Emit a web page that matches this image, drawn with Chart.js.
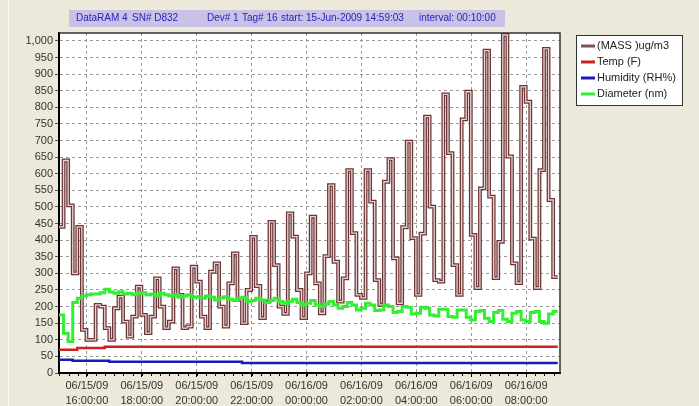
<!DOCTYPE html>
<html>
<head>
<meta charset="utf-8">
<script src="https://cdn.jsdelivr.net/npm/chart.js@4.4.1/dist/chart.umd.min.js"></script>
<style>
  html, body { margin:0; padding:0; background:#ECE9DA; }
  #wrap { position:relative; width:699px; height:406px; }
</style>
</head>
<body>
<div id="wrap"><canvas id="dramChart"></canvas></div>
<script>
// header of the logger export
const headerText = ['DataRAM 4', 'SN# D832', 'Dev# 1', 'Tag# 16', 'start: 15-Jun-2009 14:59:03', 'interval: 00:10:00'];
const startMinutes = 14 * 60 + 59 + 3 / 60;   // 15-Jun-2009 14:59:03, minutes from midnight
const intervalMinutes = 10;

const seriesNames = ['(MASS )ug/m3', 'Temp (F)', 'Humidity (RH%)', 'Diameter (nm)'];

// one value per 10 min sample
const mass = [
  440,640,505,300,440,130,100,100,205,200,
  135,100,195,230,155,110,170,260,175,120,
  170,285,200,135,155,315,235,135,140,320,
  275,170,135,305,330,200,140,270,360,220,
  150,250,410,262,165,215,455,325,200,178,
  481,411,250,165,300,471,270,180,352,566,
  335,215,285,611,421,235,226,611,516,280,
  205,576,644,345,210,439,697,406,235,420,
  772,501,280,275,839,662,325,235,764,847,
  416,256,556,971,531,286,395,1018,652,330,
  271,862,817,405,256,611,976,521,289,289
];

const temp = [
  70,70,70,70,75,75,75,75,75,75,
  79,79,79,79,79,79,79,79,79,79,
  79,79,79,79,79,79,79,79,79,79,
  79,79,79,79,79,79,79,79,79,79,
  79,79,79,79,79,79,79,79,79,79,
  79,79,79,79,79,79,79,79,79,79,
  79,79,79,79,79,79,79,79,79,79,
  79,79,79,79,79,79,79,79,79,79,
  79,79,79,79,79,79,79,79,79,79,
  79,79,79,79,79,79,79,79,79,79,
  79,79,79,79,79,79,79,79,79,79
];

const humidity = [
  40,40,40,37,37,37,37,37,37,37,
  37,34,34,34,34,34,34,34,34,34,
  34,34,34,34,34,34,34,34,34,34,
  34,34,34,34,34,34,34,34,34,34,
  30,30,30,30,30,30,30,30,30,30,
  30,30,30,30,30,30,30,30,30,30,
  30,30,30,30,30,30,30,30,30,30,
  30,30,30,30,30,30,30,30,30,30,
  30,30,30,30,30,30,30,30,30,30,
  30,30,30,30,30,30,30,30,30,30,
  30,30,30,30,30,30,30,30,30,30
];

const diameter = [
  175,120,95,212,225,232,236,238,238,242,
  252,244,240,245,238,240,236,240,242,236,
  238,232,240,236,232,236,228,232,236,228,
  230,225,232,228,220,226,230,222,218,225,
  228,215,218,225,220,212,218,225,215,210,
  215,222,212,205,210,218,205,200,208,215,
  205,195,200,212,205,190,195,210,205,188,
  190,205,200,182,185,200,198,178,180,198,
  195,175,172,192,192,170,168,190,190,168,
  160,185,188,165,155,182,188,162,155,180,
  185,160,155,182,185,155,150,178,185,185
];

const xTickMinutes = [960, 1080, 1200, 1320, 1440, 1560, 1680, 1800, 1920];
const xTickDates = ['06/15/09','06/15/09','06/15/09','06/15/09','06/16/09','06/16/09','06/16/09','06/16/09','06/16/09'];
const xTickTimes = ['16:00:00','18:00:00','20:00:00','22:00:00','00:00:00','02:00:00','04:00:00','06:00:00','08:00:00'];
const yTicks = [0,50,100,150,200,250,300,350,400,450,500,550,600,650,700,750,800,850,900,950,1000];

const FONT = '"Liberation Sans", Arial, sans-serif';

function toPoints(values) {
  return values.map((v, i) => ({ x: startMinutes + i * intervalMinutes, y: v }));
}

function line(label, values, color, width, order) {
  return {
    label: label,
    data: toPoints(values),
    borderColor: color,
    borderWidth: width,
    stepped: 'before',
    pointRadius: 0,
    fill: false,
    order: order
  };
}

const legendColors = ['#7d5555', '#d02020', '#1c1cb4', '#33ee33'];

const decor = {
  id: 'decor',
  beforeDraw(chart) {
    const ctx = chart.ctx, a = chart.chartArea;
    ctx.save();
    ctx.fillStyle = '#ECE9DA';
    ctx.fillRect(0, 0, chart.width, chart.height);
    ctx.strokeStyle = '#fbfaf4';
    ctx.lineWidth = 1;
    ctx.beginPath(); ctx.moveTo(8.5, 0); ctx.lineTo(8.5, chart.height); ctx.stroke();
    ctx.fillStyle = '#ffffff';
    ctx.fillRect(a.left, a.top, a.right - a.left, a.bottom - a.top);

    // header strip
    ctx.fillStyle = '#c9c2e6';
    ctx.fillRect(69, 10, 436, 17);
    ctx.fillStyle = '#2424b8';
    ctx.font = '10px ' + FONT;
    ctx.textBaseline = 'middle';
    const hx = [76, 132, 207, 242, 281, 419];
    headerText.forEach((t, i) => ctx.fillText(t, hx[i], 18.5));
    ctx.restore();
  },
  afterDraw(chart) {
    const ctx = chart.ctx, a = chart.chartArea, xs = chart.scales.x;
    ctx.save();
    // top / right frame
    ctx.strokeStyle = '#333';
    ctx.lineWidth = 1.5;
    ctx.beginPath();
    ctx.moveTo(a.left, a.top); ctx.lineTo(a.right, a.top); ctx.lineTo(a.right, a.bottom);
    ctx.stroke();

    // minor ticks on time axis
    ctx.strokeStyle = '#000';
    ctx.lineWidth = 1;
    for (let m = 900; m <= xs.max; m += 20) {
      const px = Math.round(xs.getPixelForValue(m)) + 0.5;
      ctx.beginPath(); ctx.moveTo(px, a.bottom); ctx.lineTo(px, a.bottom + 3); ctx.stroke();
    }

    // legend box
    ctx.fillStyle = '#ffffff';
    ctx.fillRect(576, 35, 106, 70);
    ctx.strokeStyle = '#333';
    ctx.lineWidth = 1;
    ctx.strokeRect(576.5, 35.5, 106, 70);
    ctx.font = '11px ' + FONT;
    ctx.textBaseline = 'middle';
    seriesNames.forEach((name, i) => {
      const y = 46 + i * 16;
      ctx.strokeStyle = legendColors[i];
      ctx.lineWidth = 3;
      ctx.beginPath(); ctx.moveTo(581, y); ctx.lineTo(595, y); ctx.stroke();
      ctx.fillStyle = '#222';
      ctx.fillText(name, 597, y);
    });
    ctx.restore();
  }
};

new Chart(document.getElementById('dramChart'), {
  type: 'line',
  data: {
    datasets: [
      line(seriesNames[0], mass, '#6b3636', 3.8, 3),
      line('mass core', mass, '#ecd2d2', 1.3, 2),
      line(seriesNames[1], temp, '#d02020', 2.5, 4),
      line(seriesNames[2], humidity, '#1c1cb4', 2.5, 5),
      line(seriesNames[3], diameter, '#33ee33', 3, 1)
    ]
  },
  options: {
    responsive: true,
    maintainAspectRatio: false,
    animation: false,
    layout: { padding: { top: 33, right: 139, left: 0, bottom: 0 } },
    plugins: { legend: { display: false }, tooltip: { enabled: false } },
    scales: {
      x: {
        type: 'linear',
        min: startMinutes,
        max: 1994,
        afterBuildTicks: s => { s.ticks = xTickMinutes.map(v => ({ value: v })); },
        afterFit: s => { s.height = 33; },
        grid: { color: '#9a9a9a', lineWidth: 1, tickLength: 4, tickColor: '#000' },
        border: { display: true, color: '#000', width: 2, dash: [3, 3] },
        ticks: {
          autoSkip: false, maxRotation: 0, padding: 2, color: '#333',
          font: { family: FONT, size: 11, lineHeight: 1.35 },
          callback: (v, i) => [xTickDates[i], xTickTimes[i]]
        }
      },
      y: {
        min: 0,
        max: 1024,
        afterBuildTicks: s => { s.ticks = yTicks.map(v => ({ value: v })); },
        afterFit: s => { s.width = 59; },
        grid: { color: '#9a9a9a', lineWidth: 1, tickLength: 4, tickColor: '#555' },
        border: { display: true, color: '#000', width: 2, dash: [3, 3] },
        ticks: {
          padding: 2, color: '#333',
          font: { family: FONT, size: 11 },
          callback: v => v.toLocaleString('en-US')
        }
      }
    }
  },
  plugins: [decor]
});
</script>
</body>
</html>
